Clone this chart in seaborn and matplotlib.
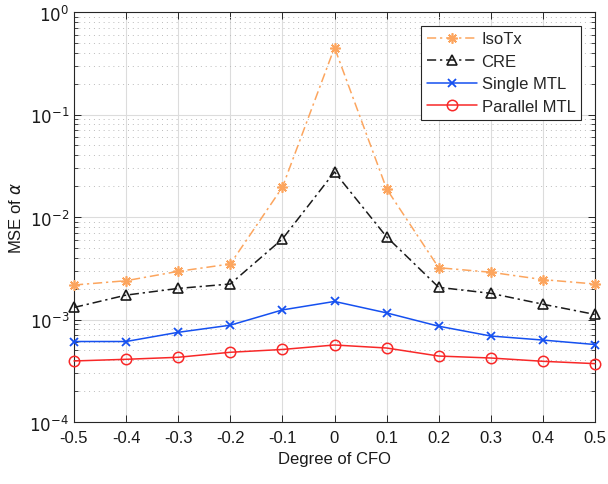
import numpy as np
import pandas as pd
import seaborn as sns
import matplotlib
matplotlib.use("Agg")
import matplotlib.pyplot as plt
from matplotlib.ticker import LogLocator, FixedLocator, NullFormatter

cfo = [-0.5, -0.4, -0.3, -0.2, -0.1, 0.0, 0.1, 0.2, 0.3, 0.4, 0.5]
isotx = [2.17e-3, 2.39e-3, 2.95e-3, 3.48e-3, 1.95e-2, 0.45, 1.88e-2, 3.2e-3, 2.89e-3, 2.45e-3, 2.22e-3]
cre = [1.31e-3, 1.73e-3, 2.01e-3, 2.22e-3, 6.1e-3, 2.75e-2, 6.4e-3, 2.06e-3, 1.80e-3, 1.41e-3, 1.12e-3]
single_mtl = [6.1e-4, 6.1e-4, 7.5e-4, 8.8e-4, 1.24e-3, 1.50e-3, 1.16e-3, 8.6e-4, 6.9e-4, 6.3e-4, 5.7e-4]
parallel_mtl = [3.94e-4, 4.09e-4, 4.28e-4, 4.79e-4, 5.1e-4, 5.64e-4, 5.27e-4, 4.4e-4, 4.21e-4, 3.91e-4, 3.71e-4]
labels = ["IsoTx", "CRE", "Single MTL", "Parallel MTL"]
xticks = [-0.5, -0.4, -0.3, -0.2, -0.1, 0, 0.1, 0.2, 0.3, 0.4, 0.5]
xticklabels = ["-0.5", "-0.4", "-0.3", "-0.2", "-0.1", "0", "0.1", "0.2", "0.3", "0.4", "0.5"]

sns.set_theme(style="white")
plt.rcParams["font.family"] = ["Liberation Sans", "DejaVu Sans"]
plt.rcParams["mathtext.fontset"] = "dejavusans"

fig = plt.figure(figsize=(6.08, 4.85), dpi=100)
ax = fig.add_axes([74/608, 1-423/485, (595-74)/608, (423-13)/485])

dashdot = (0, (6, 2.5, 1.5, 2.5))
styles = [
    dict(color="#FCA55E", linestyle=dashdot, marker=(8, 2, 0), markersize=7.5, markeredgewidth=1.2, markerfacecolor="#FCA55E"),
    dict(color="#1a1a1a", linestyle=dashdot, marker="^", markersize=7.5, markerfacecolor="none", markeredgewidth=1.2),
    dict(color="#1550F0", linestyle="-", marker="x", markersize=5.5, markeredgewidth=1.3, markerfacecolor="#1550F0"),
    dict(color="#F82828", linestyle="-", marker="o", markersize=7.5, markerfacecolor="none", markeredgewidth=1.1),
]
for ys, lab, st in zip([isotx, cre, single_mtl, parallel_mtl], labels, styles):
    sns.lineplot(x=cfo, y=ys, ax=ax, color=st["color"], linewidth=1.1, legend=False)
    ln = ax.lines[-1]
    ln.set_label(lab)
    ln.set_linestyle(st["linestyle"])
    ln.set_marker(st["marker"])
    ln.set_markersize(st["markersize"])
    ln.set_markeredgewidth(st["markeredgewidth"])
    ln.set_markeredgecolor(st["color"])
    ln.set_markerfacecolor(st["markerfacecolor"])
    ln.set_clip_on(False)
    ln.set_zorder(3)

ax.set_yscale("log")
ax.set_ylim(1e-4, 1)
ax.set_xlim(-0.5, 0.5)
ax.set_xticks(xticks)
ax.set_xticklabels(xticklabels)
ax.yaxis.set_major_locator(FixedLocator([1e-4, 1e-3, 1e-2, 1e-1, 1]))
ax.set_yticklabels([r"$10^{-4}$", r"$10^{-3}$", r"$10^{-2}$", r"$10^{-1}$", r"$10^{0}$"])
ax.yaxis.set_minor_locator(LogLocator(base=10, subs=np.arange(2, 10)))
ax.yaxis.set_minor_formatter(NullFormatter())

ax.grid(True, which="major", color="#dcdcdc", linewidth=0.8, linestyle="-")
ax.grid(True, which="minor", axis="y", color="#bbbbbb", linewidth=0.7, linestyle=(0, (1, 4)))
ax.set_axisbelow(True)

for s in ax.spines.values():
    s.set_visible(True)
    s.set_color("#262626")
    s.set_linewidth(0.8)
ax.tick_params(which="both", direction="in", top=True, right=True, left=True, bottom=True,
               colors="#262626", labelsize=12, labelcolor="#1a1a1a")
ax.tick_params(which="major", length=5, width=0.7)
ax.tick_params(which="minor", length=3, width=0.6)
ax.tick_params(axis="x", which="minor", bottom=False, top=False)
ax.tick_params(axis="x", pad=6)

ax.set_xlabel("Degree of CFO", fontsize=12, color="#1a1a1a")
ax.set_ylabel(r"MSE of $\alpha$", fontsize=12, color="#1a1a1a")

leg = ax.legend(handles=ax.lines[:4], loc="upper right", bbox_to_anchor=(0.98, 0.975), fontsize=12, frameon=True,
                fancybox=False, edgecolor="#262626", framealpha=1, borderpad=0.35,
                labelspacing=0.45, handlelength=3.0, handletextpad=0.3, borderaxespad=0.2)
leg.get_frame().set_linewidth(0.8)

fig.savefig("out.png", dpi=100)
